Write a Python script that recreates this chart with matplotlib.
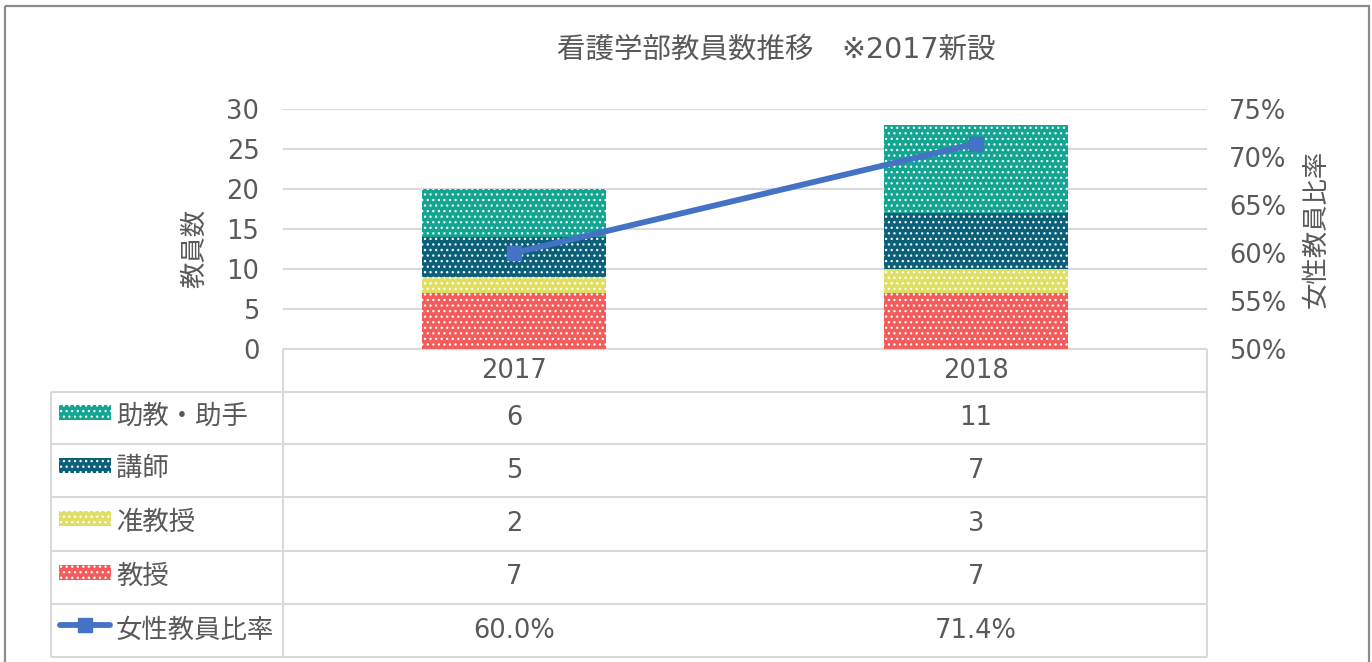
import matplotlib
matplotlib.use("Agg")
import matplotlib.pyplot as plt
import matplotlib.transforms as mtransforms
from matplotlib.patches import Rectangle
from matplotlib.lines import Line2D
from matplotlib.ticker import FuncFormatter

plt.rcParams['font.family'] = ['DejaVu Sans', 'Noto Sans CJK JP']
plt.rcParams['hatch.linewidth'] = 0.9

# ---- data ----
years = ['2017', '2018']
professor = [7, 7]
assoc_prof = [2, 3]
lecturer = [5, 7]
assistant = [6, 11]
female_ratio = [0.600, 0.714]
ratio_labels = ['60.0%', '71.4%']
line_name = '女性教員比率'
title = '看護学部教員数推移　※2017新設'
left_ticks = [0, 5, 10, 15, 20, 25, 30]
right_ticks = [0.50, 0.55, 0.60, 0.65, 0.70, 0.75]

colors = ['#F35C5A', '#DFDF66', '#0A6079', '#11A592']
line_color = '#4472C4'
text_color = '#595959'
grid_color = '#D9D9D9'
NUM_FS = 18.5
CJK_FS = 19

W, H = 1372, 662
fig = plt.figure(figsize=(W / 100, H / 100), dpi=100)

# overlay in pixel coordinates
ov = fig.add_axes([0, 0, 1, 1], zorder=0)
ov.set_xlim(0, W)
ov.set_ylim(H, 0)
ov.axis('off')
ov.patch.set_alpha(0)

# main axes
L, R, T, B = 283, 1207, 109, 349
ax = fig.add_axes([L / W, 1 - B / H, (R - L) / W, (B - T) / H], zorder=2)
ax.patch.set_alpha(0)
x = list(range(len(years)))
stack = [professor, assoc_prof, lecturer, assistant]
bottom = [0] * len(years)
for vals, col in zip(stack, colors):
    ax.bar(x, vals, 0.4, bottom=bottom, color=col, edgecolor='white',
           linewidth=0, hatch='...', zorder=3)
    bottom = [b + v for b, v in zip(bottom, vals)]
ax.set_xlim(-0.5, 1.5)
ax.set_ylim(0, 30)
ax.set_yticks(left_ticks)
ax.set_xticks([])
for s in ax.spines.values():
    s.set_visible(False)
ax.yaxis.grid(True, color=grid_color, linewidth=1.5)
ax.set_axisbelow(True)
ax.tick_params(axis='y', length=0, pad=17, labelsize=NUM_FS, labelcolor=text_color)

ax2 = ax.twinx()
ax2.set_zorder(3)
ax2.plot(x, female_ratio, color=line_color, linewidth=4.2, marker='s',
         markersize=10.5, solid_capstyle='round', zorder=5)
ax2.set_ylim(0.5, 0.75)
ax2.set_yticks(right_ticks)
ax2.yaxis.set_major_formatter(FuncFormatter(lambda v, p: f'{v * 100:.0f}%'))
ax2.tick_params(axis='y', length=0, pad=16, labelsize=NUM_FS, labelcolor=text_color)
for s in ax2.spines.values():
    s.set_visible(False)

# titles
ov.text(776, 50, title, ha='center', va='center', fontsize=20.5, color=text_color)
ov.text(195, 248, '教員数', ha='center', va='center', rotation=90,
        fontsize=CJK_FS, color=text_color)
ov.text(1317, 229, line_name, ha='center', va='center', rotation=90,
        fontsize=CJK_FS, color=text_color)

# data table
tr = mtransforms.blended_transform_factory(ax.transData, ov.transData)
lkw = dict(color=grid_color, linewidth=1.5, solid_capstyle='butt')
row_lines = [392, 444, 497, 551, 604, 657]
ov.plot([L, R], [349, 349], **lkw)
for yl in row_lines:
    ov.plot([51, R], [yl, yl], **lkw)
ov.plot([51, 51], [392, 657], **lkw)
ov.plot([L, L], [349, 657], **lkw)
ov.plot([R, R], [349, 657], **lkw)

for i, yr in enumerate(years):
    ov.text(i, 371, yr, transform=tr, ha='center', va='center',
            fontsize=NUM_FS, color=text_color)

rows = [('助教・助手', assistant, colors[3]), ('講師', lecturer, colors[2]),
        ('准教授', assoc_prof, colors[1]), ('教授', professor, colors[0])]
centers = [(a + b) / 2 for a, b in zip(row_lines[:-1], row_lines[1:])]
for (name, vals, col), yc in zip(rows, centers):
    ov.add_patch(Rectangle((59, yc - 13), 52, 15, facecolor=col,
                           edgecolor='white', linewidth=0, hatch='...'))
    ov.text(116, yc - 1, name, ha='left', va='center', fontsize=CJK_FS,
            color=text_color)
    for i, v in enumerate(vals):
        ov.text(i, yc, str(v), transform=tr, ha='center', va='center',
                fontsize=NUM_FS, color=text_color)

yc = centers[4]
ov.add_line(Line2D([60, 110], [yc - 6, yc - 6], color=line_color, linewidth=4.2,
                   solid_capstyle='round'))
ov.add_line(Line2D([85], [yc - 6], color=line_color, marker='s', markersize=10.5))
ov.text(116, yc, line_name, ha='left', va='center', fontsize=CJK_FS, color=text_color)
for i, lab in enumerate(ratio_labels):
    ov.text(i, yc, lab, transform=tr, ha='center', va='center',
            fontsize=NUM_FS, color=text_color)

# outer frame
ov.add_patch(Rectangle((5, 6), 1364, 700, facecolor='none',
                       edgecolor='#8C8C8C', linewidth=1.6, clip_on=False))

fig.savefig('out.png', dpi=100)
